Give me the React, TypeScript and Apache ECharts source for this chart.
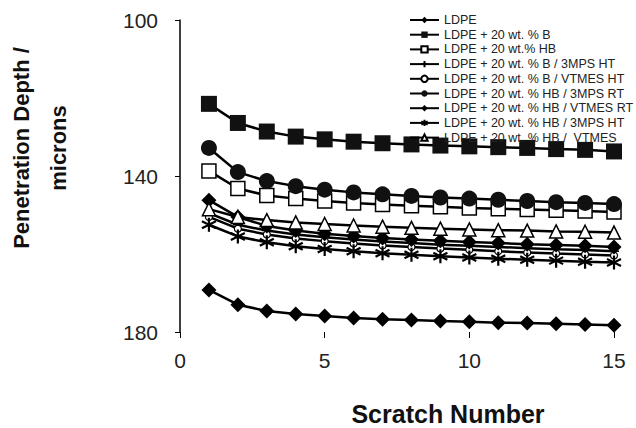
import React, { useEffect, useRef } from "react";
import * as echarts from "echarts";

const scratchNumbers = [1, 2, 3, 4, 5, 6, 7, 8, 9, 10, 11, 12, 13, 14, 15];

const seriesNames = [
  "LDPE",
  "LDPE + 20 wt. % B",
  "LDPE + 20 wt.% HB",
  "LDPE + 20 wt. % B / 3MPS HT",
  "LDPE + 20 wt. % B / VTMES HT",
  "LDPE + 20 wt. % HB / 3MPS RT",
  "LDPE + 20 wt. % HB / VTMES RT",
  "LDPE + 20 wt. % HB / 3MPS HT",
  "LDPE + 20 wt. % HB /  VTMES",
];

const ldpe = [169.2, 173.0, 174.6, 175.4, 175.9, 176.4, 176.7, 176.9, 177.2, 177.4, 177.6, 177.7, 177.9, 178.1, 178.3];
const ldpeB = [121.5, 126.4, 128.6, 129.9, 130.6, 131.2, 131.6, 131.9, 132.2, 132.4, 132.6, 132.8, 133.1, 133.3, 133.7];
const ldpeHB = [138.7, 143.2, 145.0, 145.8, 146.4, 146.9, 147.3, 147.6, 147.9, 148.2, 148.4, 148.6, 148.8, 149.0, 149.2];
const bMpsHT = [149.5, 152.5, 154.0, 155.0, 155.7, 156.3, 156.8, 157.2, 157.6, 157.9, 158.2, 158.5, 158.8, 159.0, 159.3];
const bVtmesHT = [150.5, 153.5, 155.0, 156.0, 156.7, 157.3, 157.8, 158.2, 158.6, 158.9, 159.3, 159.6, 159.9, 160.1, 160.4];
const hbMpsRT = [132.8, 139.0, 141.3, 142.6, 143.5, 144.2, 144.7, 145.1, 145.5, 145.8, 146.1, 146.4, 146.7, 146.9, 147.2];
const hbVtmesRT = [146.2, 150.5, 152.8, 154.0, 154.8, 155.4, 155.9, 156.3, 156.6, 156.9, 157.2, 157.5, 157.7, 157.9, 158.2];
const hbMpsHT = [152.5, 155.5, 157.0, 158.0, 158.7, 159.3, 159.8, 160.2, 160.6, 160.9, 161.2, 161.5, 161.7, 162.0, 162.2];
const hbVtmes = [148.5, 150.5, 151.3, 151.9, 152.3, 152.7, 153.0, 153.3, 153.5, 153.7, 153.9, 154.0, 154.2, 154.3, 154.5];

const yTicks = [100, 140, 180];
const xTicks = [0, 5, 10, 15];

const PLUS = "path://M-6,0L6,0M0,-6L0,6";
const ASTER = "path://M0,-8L0,8M-7,-4L7,4M-7,4L7,-4";

export default function App() {
  const ref = useRef<HTMLDivElement>(null);
  useEffect(() => {
    if (!ref.current) return;
    const chart = echarts.init(ref.current, undefined, { renderer: "svg" });
    const values = [ldpe, ldpeB, ldpeHB, bMpsHT, bVtmesHT, hbMpsRT, hbVtmesRT, hbMpsHT, hbVtmes];
    const markers: any[] = [
      { symbol: "diamond", size: 15, fill: "#000", bw: 0 },
      { symbol: "rect", size: 16, fill: "#111", bw: 0 },
      { symbol: "rect", size: 14, fill: "#fff", bw: 1.5 },
      { symbol: PLUS, size: 10, fill: "#000", bw: 1.5 },
      { symbol: "circle", size: 7, fill: "#fff", bw: 1.2 },
      { symbol: "circle", size: 16, fill: "#111", bw: 0 },
      { symbol: "diamond", size: 15, fill: "#000", bw: 0 },
      { symbol: ASTER, size: 14, fill: "#000", bw: 2.2 },
      { symbol: "triangle", size: 13, fill: "#fff", bw: 1.5 },
    ];
    const series = seriesNames.map((name, i) => ({
      name,
      type: "line",
      data: scratchNumbers.map((x, j) => [x, values[i][j]]),
      symbol: markers[i].symbol,
      symbolSize: markers[i].size,
      showAllSymbol: true,
      lineStyle: { color: "#000", width: 2.5 },
      itemStyle: { color: markers[i].fill, borderColor: "#000", borderWidth: markers[i].bw },
      z: 2 + i,
    }));
    chart.setOption({
      animation: false,
      backgroundColor: "#fff",
      grid: { left: 180, right: 22, top: 20, bottom: 96 },
      legend: {
        orient: "vertical",
        left: 404,
        top: 8,
        itemWidth: 29,
        itemHeight: 8,
        itemGap: 0.7,
        textStyle: { fontFamily: "Liberation Sans", fontSize: 12.5, color: "#222", lineHeight: 14 },
        data: seriesNames,
      },
      xAxis: {
        type: "value",
        min: 0,
        max: 15,
        interval: 5,
        axisLine: { show: false },
        axisTick: { show: true, length: 6, lineStyle: { color: "#000", width: 1 } },
        splitLine: { show: false },
        axisLabel: {
          margin: 18,
          fontFamily: "Liberation Sans",
          fontSize: 21,
          color: "#222",
          formatter: (v: number) => (xTicks.includes(v) ? String(v) : ""),
        },
      },
      yAxis: {
        type: "value",
        inverse: true,
        min: 100,
        max: 180,
        interval: 40,
        axisLine: { show: true, lineStyle: { color: "#000", width: 1.5 } },
        axisTick: { show: true, length: 5, lineStyle: { color: "#000" } },
        splitLine: { show: false },
        axisLabel: {
          margin: 22,
          fontFamily: "Liberation Sans",
          fontSize: 21,
          color: "#222",
          formatter: (v: number) => (yTicks.includes(v) ? String(v) : ""),
        },
      },
      graphic: [
        {
          type: "text",
          x: 21,
          y: 148,
          rotation: Math.PI / 2,
          style: {
            text: "Penetration Depth /",
            font: "bold 22px Liberation Sans",
            fill: "#111",
            textAlign: "center",
            textVerticalAlign: "middle",
          },
        },
        {
          type: "text",
          x: 58,
          y: 148,
          rotation: Math.PI / 2,
          style: {
            text: "microns",
            font: "bold 22px Liberation Sans",
            fill: "#111",
            textAlign: "center",
            textVerticalAlign: "middle",
          },
        },
        {
          type: "text",
          x: 448,
          y: 414,
          style: {
            text: "Scratch Number",
            font: "bold 25px Liberation Sans",
            fill: "#111",
            textAlign: "center",
            textVerticalAlign: "middle",
          },
        },
      ],
      series,
    });
    return () => chart.dispose();
  }, []);
  return <div ref={ref} style={{ width: 636, height: 428, position: "absolute", left: 0, top: 0 }} />;
}
